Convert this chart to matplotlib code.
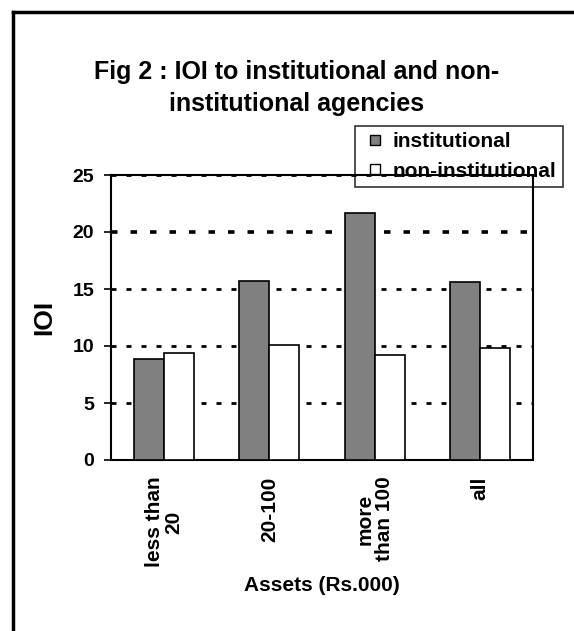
import matplotlib.pyplot as plt
import numpy as np
from matplotlib.lines import Line2D

plt.rcParams['font.family'] = ['Liberation Sans', 'DejaVu Sans']
plt.rcParams['font.weight'] = 'bold'

# Data
categories = ['less than\n20', '20-100', 'more\nthan 100', 'all']
institutional = [8.9, 15.7, 21.7, 15.6]
non_institutional = [9.4, 10.1, 9.25, 9.8]
yticks = [0, 5, 10, 15, 20, 25]

fig = plt.figure(figsize=(5.74, 6.31), dpi=100)
ax = fig.add_axes([111 / 574, 1 - 460 / 631, 422 / 574, 285 / 631])

x = np.arange(len(categories))
w = 0.285
ax.bar(x - w / 2, institutional, w, color='#808080', edgecolor='black',
       linewidth=1.2, zorder=3)
ax.bar(x + w / 2, non_institutional, w, color='white', edgecolor='black',
       linewidth=1.2, zorder=3)

ax.set_xlim(-0.5, 3.5)
ax.set_ylim(0, 25)
ax.set_yticks(yticks)
ax.set_yticklabels([str(t) for t in yticks], fontsize=14, fontweight='bold')
ax.tick_params(axis='y', length=5, width=1.2, direction='out', pad=7)

ax.set_xticks(x)
ax.set_xticklabels(categories, rotation=90, fontsize=15, fontweight='bold',
                   linespacing=1.0, ha='center', ma='center')
ax.tick_params(axis='x', length=0, pad=12)

# dotted grid lines
for t in yticks[1:]:
    ax.axhline(t, color='black', linestyle=(0, (1.8, 3.6)),
               linewidth=2.6 if t == 20 else 2.0, zorder=1)

for s in ax.spines.values():
    s.set_linewidth(1.5)
    s.set_color('black')

ax.set_ylabel('IOI', fontsize=19, fontweight='bold', labelpad=12)
ax.set_xlabel('Assets (Rs.000)', fontsize=15, fontweight='bold', labelpad=6)

fig.text(297 / 574, 1 - 88 / 631, 'Fig 2 : IOI to institutional and non-\ninstitutional agencies',
         ha='center', va='center', fontsize=18, fontweight='bold', linespacing=1.4)

# legend with small square markers
handles = [
    Line2D([], [], linestyle='none', marker='s', markersize=6.5,
           markerfacecolor='#808080', markeredgecolor='black', markeredgewidth=1.0),
    Line2D([], [], linestyle='none', marker='s', markersize=6.5,
           markerfacecolor='white', markeredgecolor='black', markeredgewidth=1.0),
]
leg = fig.legend(handles, ['institutional', 'non-institutional'], loc='upper left',
                 bbox_to_anchor=(355 / 574, 1 - 126 / 631),
                 fancybox=False, facecolor='none', edgecolor='black',
                 handlelength=1.3, handletextpad=0.2, borderpad=0.3,
                 labelspacing=0.5, borderaxespad=0,
                 prop={'weight': 'bold', 'size': 15})
leg.get_frame().set_linewidth(1.2)
leg.set_zorder(1)

# outer frame (left and top edges of the chart area)
fig.add_artist(Line2D([12.5 / 574, 12.5 / 574], [0, 1 - 11.5 / 631],
                      transform=fig.transFigure, color='black', linewidth=2.5))
fig.add_artist(Line2D([12.5 / 574, 1], [1 - 11.5 / 631, 1 - 11.5 / 631],
                      transform=fig.transFigure, color='black', linewidth=2.5))

fig.savefig('out.png', dpi=100)
